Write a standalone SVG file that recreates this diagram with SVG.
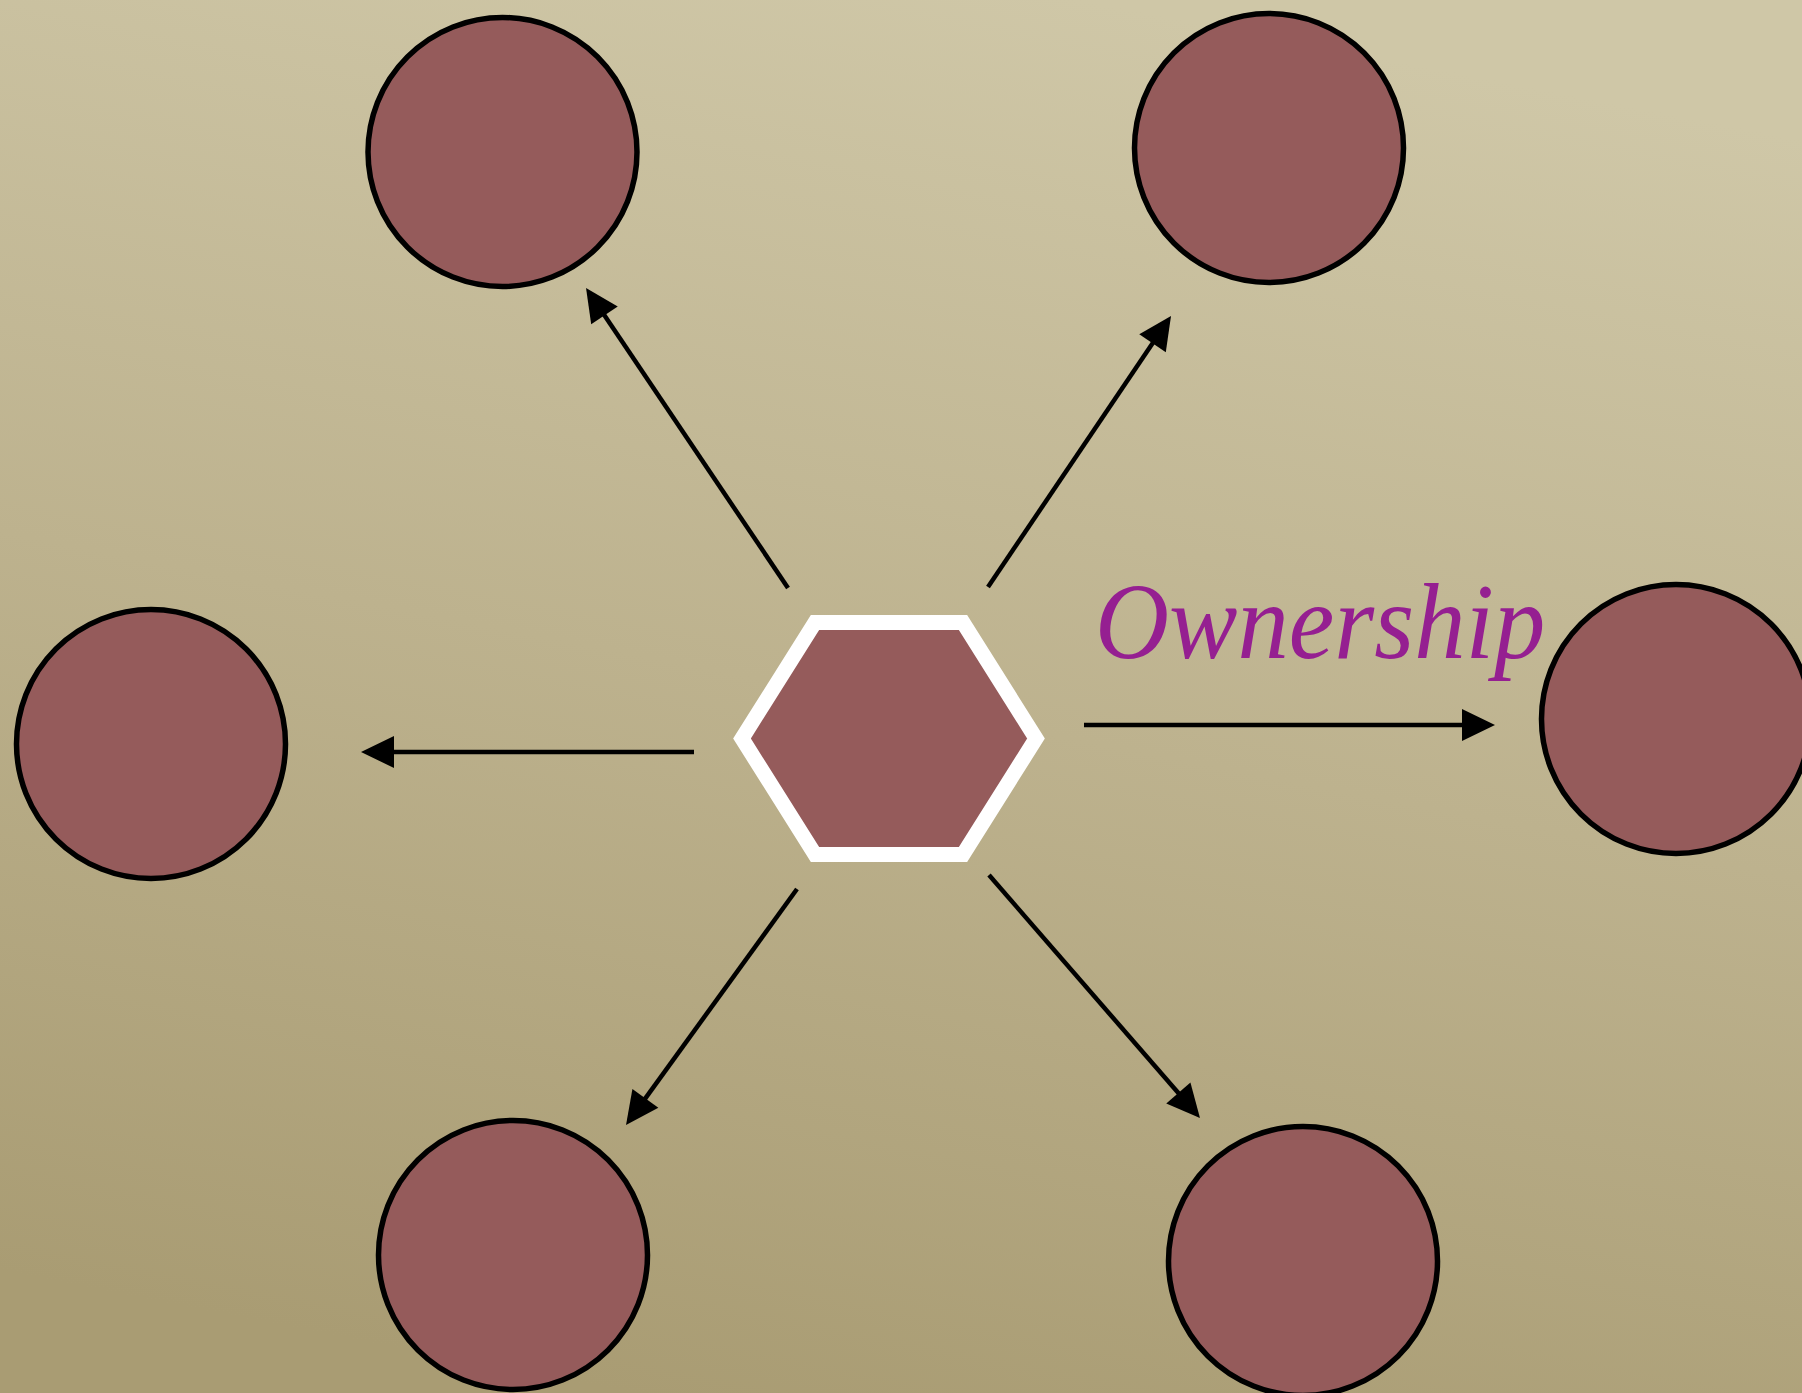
<svg xmlns="http://www.w3.org/2000/svg" width="1802" height="1393" viewBox="0 0 1802 1393">
  <defs>
    <linearGradient id="bg" x1="0.6" y1="0" x2="0.35" y2="1">
      <stop offset="0" stop-color="#cfc7a7"/>
      <stop offset="0.5" stop-color="#bdb28e"/>
      <stop offset="1" stop-color="#a99c73"/>
    </linearGradient>
    <marker id="arrow" markerUnits="userSpaceOnUse" markerWidth="34" markerHeight="34" refX="1" refY="16" orient="auto" viewBox="0 0 34 32" overflow="visible">
      <path d="M0,0 L33,16 L0,32 z" fill="#000"/>
    </marker>
  </defs>
  <style>
    .node { fill: #955b5b; stroke: #000; stroke-width: 5.5; }
    .hub { fill: #955b5b; stroke: #fff; stroke-width: 15; stroke-linejoin: miter; }
    .conn { stroke: #000; stroke-width: 4.5; fill: none; marker-end: url(#arrow); }
    .label { fill: #951f91; }
  </style>
  <rect x="0" y="0" width="1802" height="1393" fill="url(#bg)"/>
  <g id="connectors">
    <line class="conn" x1="788" y1="588" x2="603.9" y2="314.5"/>
    <line class="conn" x1="988" y1="587" x2="1153.1" y2="342.5"/>
    <line class="conn" x1="694" y1="752" x2="393" y2="752"/>
    <line class="conn" x1="1084" y1="725" x2="1463" y2="725"/>
    <line class="conn" x1="797" y1="889" x2="644.8" y2="1099.1"/>
    <line class="conn" x1="989" y1="875" x2="1179" y2="1093.8"/>
  </g>
  <g id="hub">
    <polygon class="hub" points="742,738.5 815,622.5 963,622.5 1036,738.5 963,854.5 815,854.5"/>
  </g>
  <g id="node-top-left"><circle class="node" cx="502.5" cy="152" r="134.5"/></g>
  <g id="node-top-right"><circle class="node" cx="1269" cy="148" r="134.5"/></g>
  <g id="node-left"><circle class="node" cx="151" cy="744" r="134.5"/></g>
  <g id="node-right"><circle class="node" cx="1676" cy="719" r="134.5"/></g>
  <g id="node-bottom-left"><circle class="node" cx="513" cy="1255" r="134.5"/></g>
  <g id="node-bottom-right"><circle class="node" cx="1303" cy="1261" r="134.5"/></g>
  <g id="label-ownership">
    <text class="label" font-family="Liberation Serif, serif" font-style="italic" font-size="108" x="0" y="0" transform="translate(1095,658) scale(0.95,1)">Ownership</text>
  </g>
</svg>
